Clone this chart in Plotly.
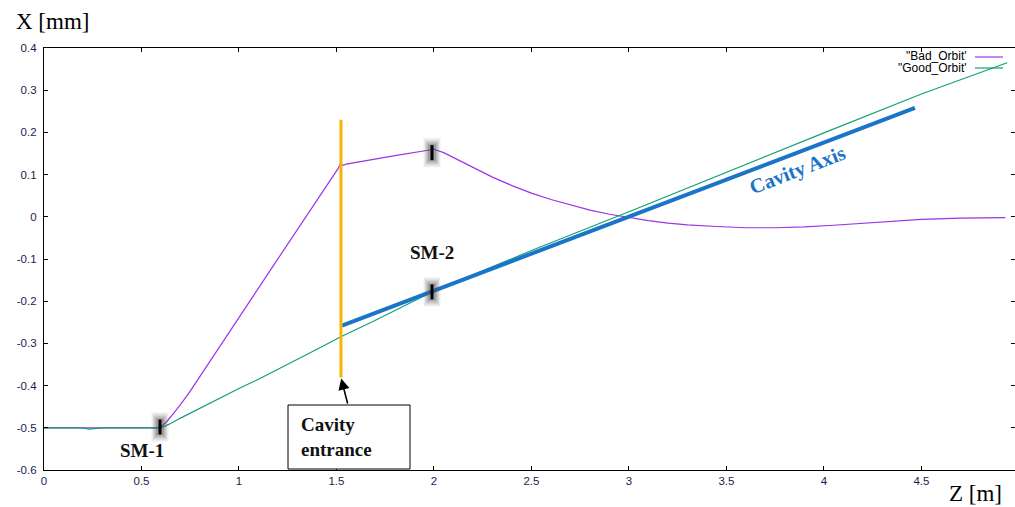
import plotly.graph_objects as go

# ---- orbit data: Z [m] vs X [mm] ----
bad_z = [0.0, 0.58, 0.60, 0.63, 0.66, 0.70, 0.75, 0.80, 1.15, 1.508, 1.52, 1.535, 1.55,
         1.80, 2.00, 2.05, 2.10, 2.15, 2.20, 2.30, 2.40, 2.50, 2.60, 2.70, 2.80, 2.90, 3.00,
         3.10, 3.20, 3.30, 3.45, 3.60, 3.75, 3.90, 4.05, 4.20, 4.35, 4.50, 4.70, 4.93]
bad_x = [-0.5, -0.5, -0.498, -0.485, -0.468, -0.445, -0.413, -0.378, -0.134, 0.114, 0.126, 0.122, 0.125,
         0.145, 0.16, 0.152, 0.140, 0.128, 0.116, 0.094, 0.074, 0.056, 0.041, 0.028, 0.016, 0.006, -0.002,
         -0.009, -0.015, -0.019, -0.023, -0.026, -0.026, -0.024, -0.020, -0.015, -0.010, -0.006, -0.003, -0.002]

good_z = [0.0, 0.20, 0.23, 0.26, 0.30, 0.60, 0.64, 0.70, 0.80, 0.90, 1.00, 1.10, 1.20, 1.30,
          1.40, 1.52, 1.70, 2.00, 2.50, 3.00, 3.50, 4.00, 4.50, 4.94]
good_x = [-0.5, -0.5, -0.503, -0.501, -0.5, -0.5, -0.492, -0.477, -0.453, -0.43, -0.407, -0.385, -0.362, -0.338,
          -0.314, -0.285, -0.245, -0.176, -0.08, 0.012, 0.106, 0.199, 0.291, 0.365]

bad_name = '"Bad_Orbit\''
good_name = '"Good_Orbit\''

# cavity axis and entrance
axis_z = [1.528, 4.467]
axis_x = [-0.258, 0.258]
entrance_z = [1.523, 1.523]
entrance_x = [-0.381, 0.23]

# steering magnets
sm_z = [0.595, 1.99, 1.99]
sm_x = [-0.498, 0.152, -0.178]

x_ticks = [0, 0.5, 1, 1.5, 2, 2.5, 3, 3.5, 4, 4.5, 5]
y_ticks = [-0.6, -0.5, -0.4, -0.3, -0.2, -0.1, 0, 0.1, 0.2, 0.3, 0.4]

PURPLE = "#9b34e4"
GREEN = "#12a077"
BLUE = "#1a74c8"
ORANGE = "#f5b400"
TICK_COL = "#1c1c50"
SERIF = "Liberation Serif, Times New Roman, serif"
SANS = "Liberation Sans, Arial, sans-serif"

W, H = 1015, 507
L, R, T, B = 44, 0, 48, 37
PW, PH = W - L - R, H - T - B
X_MAX = 4.98


def px(x):
    return (x - L) / PW


def py(y):
    return (H - B - y) / PH


fig = go.Figure()
fig.add_trace(go.Scatter(x=bad_z, y=bad_x, mode="lines", name=bad_name,
                         line=dict(color=PURPLE, width=1.2), showlegend=False))
fig.add_trace(go.Scatter(x=good_z, y=good_x, mode="lines", name=good_name,
                         line=dict(color=GREEN, width=1.2), showlegend=False))
fig.add_trace(go.Scatter(x=axis_z, y=axis_x, mode="lines",
                         line=dict(color=BLUE, width=4), showlegend=False))
fig.add_trace(go.Scatter(x=entrance_z, y=entrance_x, mode="lines",
                         line=dict(color=ORANGE, width=3), showlegend=False))

shapes = []
# soft grey halo + black bar for each steering magnet
for z, xv in zip(sm_z, sm_x):
    for w, h, op in [(17, 29, 0.10), (14, 25, 0.14), (11, 21, 0.2), (8, 17, 0.28)]:
        shapes.append(dict(type="rect", xref="x", yref="y", xsizemode="pixel", ysizemode="pixel",
                           xanchor=z, yanchor=xv, x0=-w / 2, x1=w / 2, y0=-h / 2, y1=h / 2,
                           fillcolor="#505050", opacity=op, line=dict(width=0)))
    shapes.append(dict(type="line", xref="x", yref="y", xsizemode="pixel", ysizemode="pixel",
                       xanchor=z, yanchor=xv, x0=0, x1=0, y0=-7.5, y1=7.5,
                       line=dict(color="black", width=3)))

# "Cavity entrance" box
shapes.append(dict(type="rect", xref="paper", yref="paper",
                   x0=px(288), x1=px(410), y0=py(469), y1=py(405),
                   fillcolor="white", line=dict(color="black", width=1)))

# key samples
shapes.append(dict(type="line", xref="paper", yref="paper", x0=px(975), x1=px(1003),
                   y0=py(57), y1=py(57), line=dict(color=PURPLE, width=1.2)))
shapes.append(dict(type="line", xref="paper", yref="paper", x0=px(975), x1=px(1003),
                   y0=py(68), y1=py(68), line=dict(color=GREEN, width=1.2)))

annotations = [
    dict(text="X [mm]", xref="paper", yref="paper", x=px(14), y=py(22), xanchor="left", yanchor="middle",
         showarrow=False, font=dict(family=SERIF, size=23, color="black")),
    dict(text="Z [m]", xref="paper", yref="paper", x=px(947), y=py(494), xanchor="left", yanchor="middle",
         showarrow=False, font=dict(family=SERIF, size=23, color="black")),
    dict(text="<b>SM-1</b>", xref="paper", yref="paper", x=px(142), y=py(450), xanchor="center",
         yanchor="middle", showarrow=False, font=dict(family=SERIF, size=19, color="#111111")),
    dict(text="<b>SM-2</b>", xref="paper", yref="paper", x=px(432), y=py(252), xanchor="center",
         yanchor="middle", showarrow=False, font=dict(family=SERIF, size=19, color="#111111")),
    dict(text="<b>Cavity Axis</b>", xref="paper", yref="paper", x=px(797), y=py(170), xanchor="center",
         yanchor="middle", textangle=-21, showarrow=False, font=dict(family=SERIF, size=20.5, color=BLUE)),
    dict(text="<b>Cavity<br>entrance</b>", xref="paper", yref="paper", x=px(299), y=py(437), xanchor="left",
         yanchor="middle", align="left", showarrow=False,
         font=dict(family=SERIF, size=19, color="#111111")),
    dict(text="", x=entrance_z[0], y=entrance_x[0], xref="x", yref="y",
         ax=px(348) * X_MAX, ay=-0.446, axref="x", ayref="y", showarrow=True,
         arrowhead=2, arrowsize=1.4, arrowwidth=1.6, arrowcolor="black", standoff=1),
    dict(text=bad_name, xref="paper", yref="paper", x=px(969), y=py(55.5), xanchor="right", yanchor="middle",
         showarrow=False, font=dict(family=SANS, size=12, color="black")),
    dict(text=good_name, xref="paper", yref="paper", x=px(969), y=py(67.5), xanchor="right", yanchor="middle",
         showarrow=False, font=dict(family=SANS, size=12, color="black")),
]

fig.update_layout(
    width=W, height=H,
    margin=dict(l=L, r=R, t=T, b=B),
    paper_bgcolor="white", plot_bgcolor="white",
    shapes=shapes, annotations=annotations,
    xaxis=dict(range=[0, X_MAX], tickvals=x_ticks, ticktext=[f"{v:g}" for v in x_ticks],
               showgrid=False, zeroline=False, showline=True, linecolor="black", linewidth=1.2,
               mirror="ticks", ticks="inside", ticklen=4, tickcolor="black",
               tickfont=dict(family=SANS, size=11.5, color=TICK_COL)),
    yaxis=dict(range=[-0.6, 0.4], tickvals=y_ticks, ticktext=[f"{v:g}" for v in y_ticks],
               showgrid=False, zeroline=False, showline=True, linecolor="black", linewidth=1.2,
               mirror="ticks", ticks="inside", ticklen=4, tickcolor="black", ticklabelstandoff=4,
               tickfont=dict(family=SANS, size=11.5, color=TICK_COL)),
)

fig.write_html("out.html")
